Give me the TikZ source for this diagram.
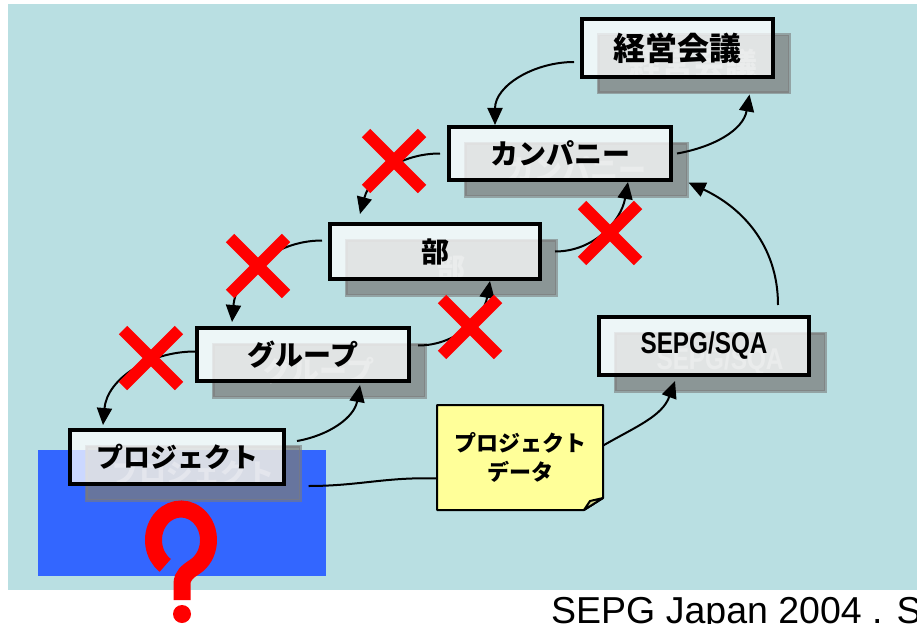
\documentclass[tikz,border=0pt]{standalone}
\usepackage{fontspec}
\usepackage{graphicx}
\setmainfont{Liberation Sans}
\newfontfamily\jpfont{Noto Sans CJK JP}
\usetikzlibrary{arrows.meta}
\usetikzlibrary{shapes.misc}
\definecolor{bgteal}{RGB}{185,223,226}
\definecolor{prjblue}{RGB}{51,102,255}
\definecolor{notey}{RGB}{255,255,153}
\definecolor{notefold}{RGB}{214,214,140}
\definecolor{shadegray}{RGB}{123,123,123}
\begin{document}
\begin{tikzpicture}[x=1pt,y=1pt,>={Triangle[length=17pt,width=15pt]},
  box/.style={draw=black,line width=4pt,fill=white,fill opacity=0.75,text opacity=1,inner sep=0pt,font=\jpfont\bfseries\fontsize{28}{32}\selectfont},
  shade/.style={draw=shadegray,line width=3pt,fill=shadegray,fill opacity=0.73,draw opacity=0.6,text=white,text opacity=0.3,inner sep=0pt,font=\jpfont\bfseries\fontsize{28}{32}\selectfont},
  notebox/.style={draw=black,line width=2pt,fill=notey,line join=round},
  link/.style={line width=2pt,->},
  xmark/.style={cross out,draw=red,line width=12pt,minimum size=44pt,inner sep=0pt}]
\useasboundingbox (0,0) rectangle (917,-623);
\fill[bgteal] (8,-4) rectangle (917,-590);
\fill[prjblue] (38,-450) rectangle (326,-576);
% note
\filldraw[notebox] (437,-405) -- (603,-405) -- (603,-498) -- (584,-510) -- (437,-510) -- cycle;
\filldraw[notebox,fill=notefold] (603,-498) -- (584,-510) -- (590,-501) -- cycle;
\node[align=center,inner sep=0pt,minimum width=166,minimum height=105,font=\jpfont\bfseries\fontsize{22}{29}\selectfont] (pd) at (520,-457.5) {プロジェクト\\データ};
% shadows
\node[shade,minimum width=191,minimum height=58,font=\jpfont\bfseries\fontsize{32}{34}\selectfont] (kgs) at (693.5,-64) {経営会議};
\node[shade,minimum width=222,minimum height=53] (kps) at (576,-169.5) {カンパニー};
\node[shade,minimum width=210,minimum height=55] (bus) at (451,-267.5) {部};
\node[shade,minimum width=212,minimum height=53] (grs) at (319,-370.5) {グループ};
\node[shade,minimum width=214,minimum height=54,font=\jpfont\bfseries\fontsize{27}{32}\selectfont] (pjs) at (193,-473) {プロジェクト};
\node[shade,minimum width=210,minimum height=58] (sqs) at (720,-362) {\normalfont\bfseries\fontsize{30}{34}\selectfont\scalebox{0.81}[1]{SEPG/SQA}};
% boxes
\node[box,minimum width=191,minimum height=58,font=\jpfont\bfseries\fontsize{32}{34}\selectfont] (kg) at (677.5,-48) {経営会議};
\node[box,minimum width=222,minimum height=53] (kp) at (560,-153.5) {カンパニー};
\node[box,minimum width=210,minimum height=55] (bu) at (435,-251.5) {部};
\node[box,minimum width=212,minimum height=53] (gr) at (303,-354.5) {グループ};
\node[box,minimum width=214,minimum height=54,font=\jpfont\bfseries\fontsize{27}{32}\selectfont] (pj) at (177,-457) {プロジェクト};
\node[box,minimum width=210,minimum height=58] (sq) at (704,-346) {\normalfont\bfseries\fontsize{30}{34}\selectfont\scalebox{0.81}[1]{SEPG/SQA}};
% links
\draw[link] ([shift={(-6,-14)}]kg.west) to[out=180,in=90] ([xshift=-65]kp.north);
\draw[link] ([xshift=4]kp.east) to[out=10,in=-100] ([xshift=56]kgs.south);
\draw[link] ([xshift=-7]kp.west) to[out=180,in=75] ([shift={(-75,8)}]bu.north);
\draw[link] ([xshift=13]bu.east) to[out=0,in=-100] ([xshift=68]kp.south);
\draw[link] ([shift={(-6,11)}]bu.west) to[out=180,in=85] ([shift={(-71,4)}]gr.north);
\draw[link] ([shift={(7,9)}]gr.east) to[out=0,in=-100] ([xshift=55]bu.south);
\draw[link] ([yshift=3]gr.west) to[out=180,in=85] ([shift={(-74,3)}]pj.north);
\draw[link] ([shift={(11,16)}]pj.east) to[out=10,in=-100] ([shift={(57,-2)}]gr.south);
\draw[link] ([shift={(74,10)}]sq.north) to[out=90,in=-25] ([yshift=-13]kps.east);
\draw[link] ([yshift=12]pd.east) to[out=30,in=-110] ([shift={(-29,-4)}]sq.south);
\draw[line width=2pt] ([shift={(7,-13)}]pjs.east) to[out=0,in=178] ([yshift=-21]pd.west);
% crosses
\node[xmark] (x1) at (394,-161) {};
\node[xmark] (x2) at (610,-233) {};
\node[xmark] (x3) at (258,-266) {};
\node[xmark] (x4) at (470,-327) {};
\node[xmark] (x5) at (151,-358) {};
% question mark
\draw[red,line width=17pt] (181,-540) ++(235:27.5 and 31) arc[start angle=235,end angle=-60,x radius=27.5,y radius=31] to[out=213,in=90] (182,-584) -- (182,-600);
\fill[red] (182,-614) circle[radius=9];
\node[anchor=base west,inner sep=0pt,font=\fontsize{37.5}{40}\selectfont] (ft) at (551,-623) {SEPG Japan 2004 . S};
\end{tikzpicture}
\end{document}
